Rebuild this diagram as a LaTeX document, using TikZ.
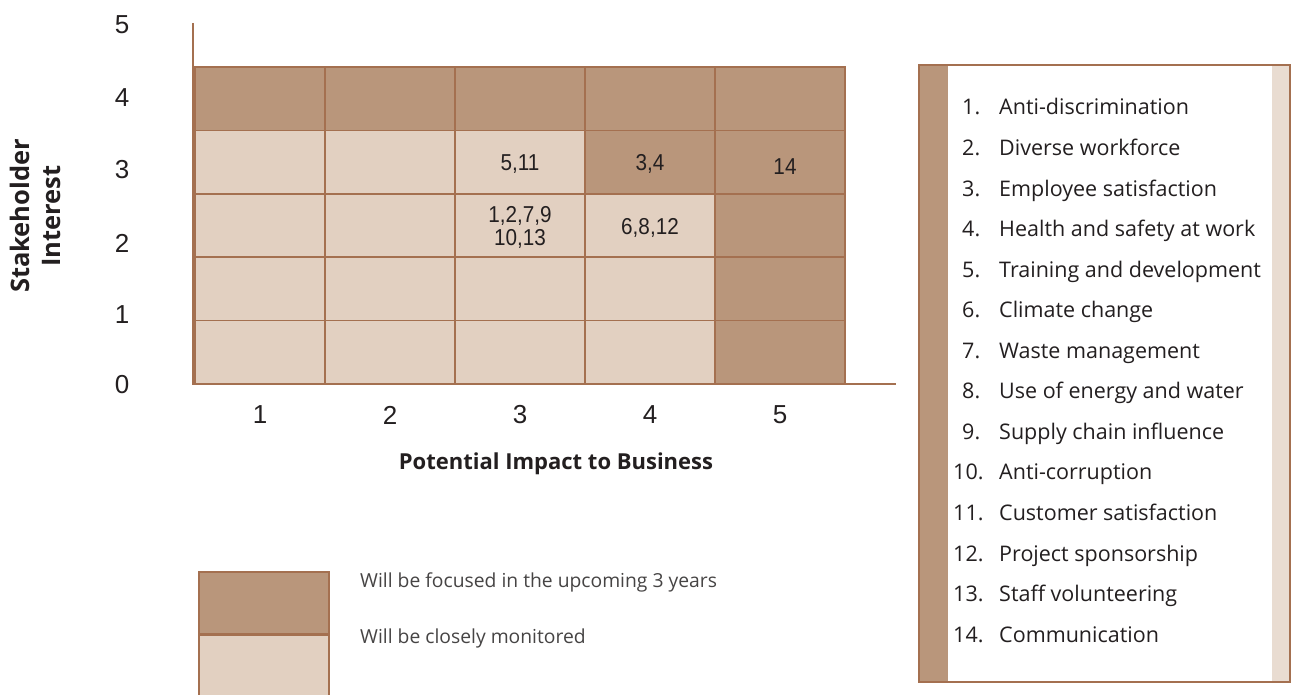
\documentclass[tikz,border=0pt]{standalone}
\usepackage{fontspec}
\setmainfont{Open Sans}
\newfontfamily\numfont{Liberation Sans}
\newfontfamily\cellfont[FakeStretch=0.9]{Liberation Sans}
\definecolor{focus}{RGB}{185,150,123}
\definecolor{monitor}{RGB}{226,208,193}
\definecolor{rim}{RGB}{164,112,80}
\definecolor{ink}{RGB}{35,31,32}
\definecolor{softink}{RGB}{70,68,68}

\tikzset{
  cell/.style={draw=rim, line width=1.5pt, minimum width=130pt, minimum height=63.4pt, inner sep=0pt},
  cellnum/.style={font=\cellfont\fontsize{23}{23}\selectfont, text=ink, align=center, inner sep=0pt},
  ticknum/.style={font=\numfont\fontsize{26}{28}\selectfont, text=ink, inner sep=0pt},
  ytitlestyle/.style={font=\bfseries\fontsize{25.5}{31}\selectfont, text=ink, align=center, inner sep=0pt},
  xtitlestyle/.style={font=\bfseries\fontsize{22}{26}\selectfont, text=ink, inner sep=0pt},
  axisline/.style={draw=rim, line width=2.8pt},
  itemnum/.style={font=\fontsize{21.5}{23}\selectfont, text=ink, anchor=base west, inner sep=0pt},
  itemtext/.style={font=\fontsize{21.5}{23}\selectfont, text=ink, anchor=base west, inner sep=0pt},
  keybox/.style={draw=rim, line width=1.5pt, minimum width=130pt, minimum height=62pt, inner sep=0pt},
  keytext/.style={font=\fontsize{19.3}{21}\selectfont, text=softink, anchor=west, inner sep=0pt}
}

\begin{document}
\begin{tikzpicture}[x=1pt, y=-1pt]
\useasboundingbox (0,0) rectangle (1292,695);
\fill[white] (0,0) rectangle (1292,695);

% matrix cells: column/row/fill
\foreach \c/\r/\f in {
  1/1/focus, 2/1/focus, 3/1/focus, 4/1/focus, 5/1/focus,
  1/2/monitor, 2/2/monitor, 3/2/monitor, 4/2/focus, 5/2/focus,
  1/3/monitor, 2/3/monitor, 3/3/monitor, 4/3/monitor, 5/3/focus,
  1/4/monitor, 2/4/monitor, 3/4/monitor, 4/4/monitor, 5/4/focus,
  1/5/monitor, 2/5/monitor, 3/5/monitor, 4/5/monitor, 5/5/focus}
  \node[cell, fill=\f] (cell-\c-\r) at ({195+130*(\c-0.5)}, {67+63.4*(\r-0.5)}) {};

% issue numbers placed in the matrix
\node[cellnum, yshift=-2pt] (n511) at (cell-3-2) {5,11};
\node[cellnum, yshift=-2pt] (n34) at (cell-4-2) {3,4};
\node[cellnum, xshift=5pt, yshift=-4pt] (n14) at (cell-5-2) {14};
\node[cellnum, yshift=-2pt] (n1213) at (cell-3-3) {1,2,7,9\\10,13};
\node[cellnum, yshift=-2pt] (n6812) at (cell-4-3) {6,8,12};

% axes
\coordinate (ytop) at (193,23);
\coordinate (origin) at (193,384);
\coordinate (xend) at (896,384);
\draw[axisline] (ytop) -- (origin) -- (xend);

% axis ticks
\foreach \v/\y in {5/25, 4/98, 3/170, 2/243, 1/315, 0/385}
  \node[ticknum] (yt-\v) at (122,\y) {\v};
\foreach \v in {1,...,5}
  \node[ticknum] (xt-\v) at ({195+130*(\v-0.5)}, 415) {\v};

% axis titles
\node[ytitlestyle, rotate=90] (ytitle) at (35,216) {Stakeholder\\Interest};
\node[xtitlestyle] (xtitle) at (556,464) {Potential Impact to Business};

% key
\node[keybox, fill=focus, anchor=north west] (keyfocus) at (198,571) {};
\node[keybox, fill=monitor, anchor=north west] (keymonitor) at (keyfocus.south west) {};
\node[keytext] (kf) at (360,582) {Will be focused in the upcoming 3 years};
\node[keytext] (km) at (360,638) {Will be closely monitored};

% issue list panel
\fill[white] (919,65) rectangle (1290,682);
\fill[focus] (919,65) rectangle (948,682);
\fill[monitor!75] (1272,65) rectangle (1290,682);
\draw[rim, line width=2pt] (919,65) rectangle (1290,682);

\foreach \k/\t in {
  1/Anti-discrimination, 2/Diverse workforce, 3/Employee satisfaction,
  4/Health and safety at work, 5/Training and development, 6/Climate change,
  7/Waste management, 8/Use of energy and water, 9/Supply chain influence,
  10/Anti-corruption, 11/Customer satisfaction, 12/Project sponsorship,
  13/Staff volunteering, 14/Communication}
{
  \pgfmathsetmacro{\base}{115+40.55*(\k-1)}
  \ifnum\k<10
    \node[itemnum] (num-\k) at (962,\base) {\k.};
  \else
    \node[itemnum] (num-\k) at (953,\base) {\k.};
  \fi
  \node[itemtext] (item-\k) at (999,\base) {\t};
}
\end{tikzpicture}
\end{document}
